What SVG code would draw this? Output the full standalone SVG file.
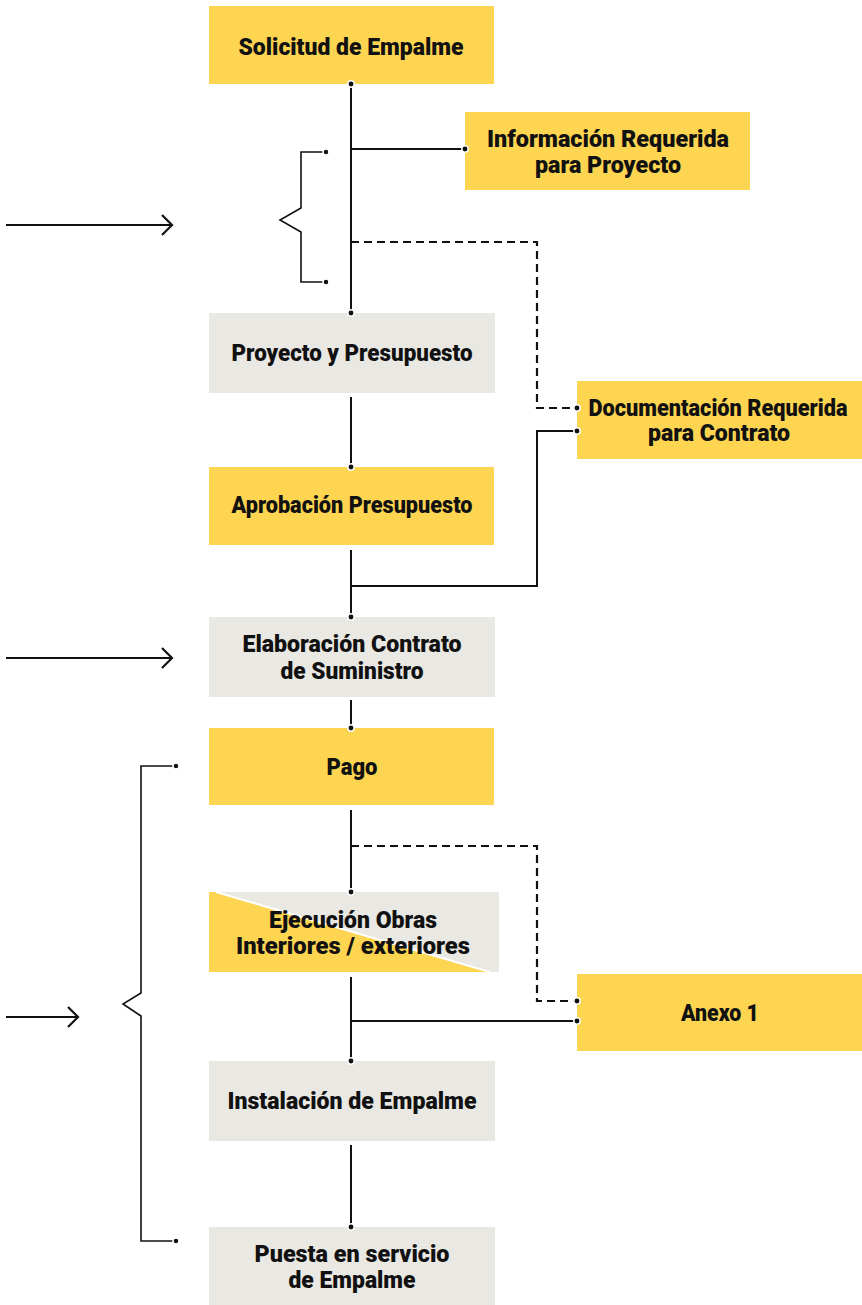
<svg xmlns="http://www.w3.org/2000/svg" width="862" height="1305" viewBox="0 0 862 1305">
<style>
.y{fill:#FED551}
.g{fill:#E9E8E3}
.t{font-family:Roboto,"Liberation Sans",sans-serif;font-weight:900;font-size:23px;fill:#111;text-anchor:middle}
.ln{fill:none;stroke:#111;stroke-width:2}
.th{fill:none;stroke:#111;stroke-width:1.6}
.ar{fill:none;stroke:#111;stroke-width:2.2}
.ds{fill:none;stroke:#111;stroke-width:2.2;stroke-dasharray:8,5}
.dot{fill:#111;stroke:#fff;stroke-width:1.5}
</style>
<rect width="862" height="1305" fill="#fff"/>
<g id="connectors">
<path class="ln" d="M351 84V313M351 149H465"/>
<path class="ds" d="M351 242H537V408H577"/>
<path class="ln" d="M351 397V467"/>
<path class="ln" d="M351 550V617M351 586H537V431H577"/>
<path class="ln" d="M351 700V728"/>
<path class="ln" d="M351 810V892"/>
<path class="ds" d="M351 846H537V1001H577"/>
<path class="ln" d="M351 977V1061M351 1021H577"/>
<path class="ln" d="M351 1145V1227"/>
<path class="th" d="M326 152H301V208L280 220L301 232V282H326"/>
<path class="th" d="M176 766H141V993L123 1004L141 1016V1241H176"/>
<path class="ar" d="M6 225H172M162 215L172 225L162 235"/>
<path class="ar" d="M6 658H172M162 648L172 658L162 668"/>
<path class="ar" d="M6 1017H78M68 1007L78 1017L68 1027"/>
</g>
<g id="n1"><rect class="y" x="209" y="6" width="285" height="78"/><text class="t" x="351" y="55" textLength="225" lengthAdjust="spacingAndGlyphs">Solicitud de Empalme</text></g>
<g id="n2"><rect class="y" x="465" y="112" width="285" height="78"/><text class="t" x="608" y="147" textLength="242" lengthAdjust="spacingAndGlyphs">Información Requerida</text><text class="t" x="608" y="173" textLength="146" lengthAdjust="spacingAndGlyphs">para Proyecto</text></g>
<g id="n3"><rect class="g" x="209" y="313" width="286" height="80"/><text class="t" x="352" y="361" textLength="241" lengthAdjust="spacingAndGlyphs">Proyecto y Presupuesto</text></g>
<g id="n4"><rect class="y" x="577" y="381" width="285" height="78"/><text class="t" x="718" y="416" textLength="259" lengthAdjust="spacingAndGlyphs">Documentación Requerida</text><text class="t" x="719" y="441" textLength="142" lengthAdjust="spacingAndGlyphs">para Contrato</text></g>
<g id="n5"><rect class="y" x="209" y="467" width="285" height="78"/><text class="t" x="352" y="513" textLength="241" lengthAdjust="spacingAndGlyphs">Aprobación Presupuesto</text></g>
<g id="n6"><rect class="g" x="209" y="617" width="286" height="80"/><text class="t" x="352" y="652" textLength="219" lengthAdjust="spacingAndGlyphs">Elaboración Contrato</text><text class="t" x="352" y="679" textLength="143" lengthAdjust="spacingAndGlyphs">de Suministro</text></g>
<g id="n7"><rect class="y" x="209" y="728" width="285" height="77"/><text class="t" x="352" y="775" textLength="51" lengthAdjust="spacingAndGlyphs">Pago</text></g>
<g id="n8"><rect class="g" x="209" y="892" width="290" height="80"/><polygon class="y" points="209,892 216,892 490,972 209,972"/><line x1="216" y1="892" x2="490" y2="972" stroke="#fff" stroke-width="2"/><text class="t" x="353" y="928" textLength="168" lengthAdjust="spacingAndGlyphs">Ejecución Obras</text><text class="t" x="353" y="954" textLength="234" lengthAdjust="spacingAndGlyphs">Interiores / exteriores</text></g>
<g id="n9"><rect class="y" x="577" y="974" width="285" height="77"/><text class="t" x="720" y="1021" textLength="78" lengthAdjust="spacingAndGlyphs">Anexo 1</text></g>
<g id="n10"><rect class="g" x="209" y="1061" width="286" height="80"/><text class="t" x="352" y="1109" textLength="249" lengthAdjust="spacingAndGlyphs">Instalación de Empalme</text></g>
<g id="n11"><rect class="g" x="209" y="1227" width="286" height="78"/><text class="t" x="352" y="1262" textLength="195" lengthAdjust="spacingAndGlyphs">Puesta en servicio</text><text class="t" x="352" y="1288" textLength="127" lengthAdjust="spacingAndGlyphs">de Empalme</text></g>
<g id="dots">
<circle class="dot" cx="351" cy="84" r="3.2"/>
<circle class="dot" cx="351" cy="313" r="3.2"/>
<circle class="dot" cx="465" cy="149" r="3.2"/>
<circle class="dot" cx="577" cy="408" r="3.2"/>
<circle class="dot" cx="577" cy="431" r="3.2"/>
<circle class="dot" cx="351" cy="467" r="3.2"/>
<circle class="dot" cx="351" cy="617" r="3.2"/>
<circle class="dot" cx="351" cy="728" r="3.2"/>
<circle class="dot" cx="351" cy="892" r="3.2"/>
<circle class="dot" cx="577" cy="1001" r="3.2"/>
<circle class="dot" cx="577" cy="1021" r="3.2"/>
<circle class="dot" cx="351" cy="1061" r="3.2"/>
<circle class="dot" cx="351" cy="1227" r="3.2"/>
<circle class="dot" cx="326" cy="152" r="3"/>
<circle class="dot" cx="326" cy="282" r="3"/>
<circle class="dot" cx="176" cy="766" r="3"/>
<circle class="dot" cx="176" cy="1241" r="3"/>
</g>
</svg>
